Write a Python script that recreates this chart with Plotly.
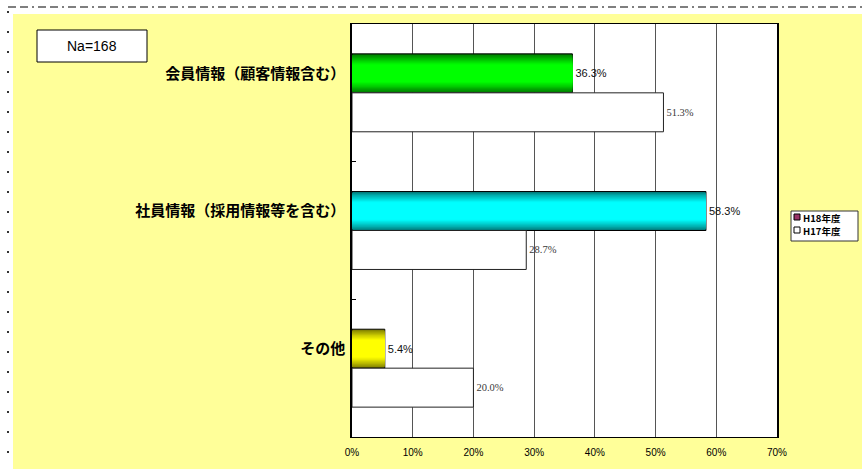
import plotly.graph_objects as go

# ---- data ----
categories = ["会員情報（顧客情報含む）", "社員情報（採用情報等を含む）", "その他"]
h18_values = [36.3, 58.3, 5.4]
h17_values = [51.3, 28.7, 20.0]
x_ticks = [0, 10, 20, 30, 40, 50, 60, 70]
series_names = ["H18年度", "H17年度"]
sample_note = "Na=168"

# ---- styling ----
W, H = 862, 469
PL, PR, PT, PB = 352, 777, 24, 437          # plot-area box in pixels
BAR_W = 0.283                                # bar thickness in category units
OFF = BAR_W / 2
edge_cols = [(0, 95, 0), (0, 100, 100), (100, 100, 0)]
mid_cols = [(0, 255, 0), (0, 255, 255), (255, 255, 0)]
PALE = "#FFFF99"
PLUM = "#993366"
JP = "Noto Sans CJK JP"
SANS = "Liberation Sans, Arial"
SERIF = "Liberation Serif, Times New Roman"


def px_x(x):
    return (x - PL) / (PR - PL)


def px_y(y):
    return (PB - y) / (PB - PT)


def mix(a, b, t):
    return "rgb(%d,%d,%d)" % tuple(round(a[i] + (b[i] - a[i]) * t) for i in range(3))


n = len(categories)
pos_h18 = [i - OFF for i in range(n)]
pos_h17 = [i + OFF for i in range(n)]

fig = go.Figure()

# H18 bars: layers of shrinking thickness give a dark-bright-dark shading
N = 14
for k in range(N):
    frac = 1 - 0.85 * k / N
    t = min(1.0, ((k + 1) / (N * 0.7)) ** 0.8)
    outer = k == 0
    fig.add_trace(go.Bar(
        y=pos_h18, x=h18_values, orientation="h",
        width=[BAR_W * frac] * n,
        marker=dict(color=[mix(edge_cols[i], mid_cols[i], t) for i in range(n)],
                    line=dict(color="black", width=1 if outer else 0)),
        showlegend=False, hoverinfo="skip",
    ))

# value labels for H18 (carried by a transparent bar of the same value)
fig.add_trace(go.Bar(
    y=pos_h18, x=h18_values, orientation="h", width=[BAR_W] * n,
    marker=dict(color="rgba(0,0,0,0)", line=dict(width=0)),
    text=[f"{v:.1f}%" for v in h18_values], textposition="outside",
    textfont=dict(family=SANS, size=11, color="#111111"),
    outsidetextfont=dict(family=SANS, size=11, color="#111111"),
    cliponaxis=False, showlegend=False, hoverinfo="skip",
))

# H17 bars
fig.add_trace(go.Bar(
    y=pos_h17, x=h17_values, orientation="h", width=[BAR_W] * n,
    marker=dict(color="white", line=dict(color="#222222", width=1)),
    text=[f"{v:.1f}%" for v in h17_values], textposition="outside",
    textfont=dict(family=SERIF, size=10.5, color="#3a3a3a"),
    outsidetextfont=dict(family=SERIF, size=10.5, color="#3a3a3a"),
    cliponaxis=False, showlegend=False, hoverinfo="skip",
))

shapes = [
    # white strips round the pale-yellow sheet
    dict(type="rect", xref="paper", yref="paper", x0=px_x(0), x1=px_x(13),
         y0=px_y(H), y1=px_y(0), fillcolor="white", line=dict(width=0), layer="above"),
    dict(type="rect", xref="paper", yref="paper", x0=px_x(0), x1=px_x(W),
         y0=px_y(14), y1=px_y(0), fillcolor="white", line=dict(width=0), layer="above"),
    # dash-dot rule along the top, dotted rule down the left
    dict(type="line", xref="paper", yref="paper", x0=px_x(8), x1=px_x(W),
         y0=px_y(7), y1=px_y(7), line=dict(color="#555555", width=1.5,
                                           dash="8px,4px,8px,4px,2px,4px")),
    dict(type="line", xref="paper", yref="paper", x0=px_x(8), x1=px_x(8),
         y0=px_y(11), y1=px_y(H), line=dict(color="#333333", width=2, dash="2px,18px")),
    # sample-size box
    dict(type="rect", xref="paper", yref="paper", x0=px_x(37), x1=px_x(147),
         y0=px_y(62), y1=px_y(30), fillcolor="white", line=dict(color="black", width=1)),
    # legend box and swatches
    dict(type="rect", xref="paper", yref="paper", x0=px_x(791), x1=px_x(858),
         y0=px_y(241), y1=px_y(211), fillcolor="white", line=dict(color="#333333", width=1)),
    dict(type="rect", xref="paper", yref="paper", x0=px_x(794), x1=px_x(800),
         y0=px_y(220), y1=px_y(214), fillcolor=PLUM, line=dict(color="black", width=1)),
    dict(type="rect", xref="paper", yref="paper", x0=px_x(794), x1=px_x(800),
         y0=px_y(233), y1=px_y(227), fillcolor="white", line=dict(color="black", width=1)),
]

annotations = [
    dict(xref="paper", yref="paper", x=px_x(92), y=px_y(46), text=sample_note,
         showarrow=False, font=dict(family=SANS, size=14, color="black"),
         xanchor="center", yanchor="middle"),
    dict(xref="paper", yref="paper", x=px_x(801), y=px_y(217.5), text=series_names[0],
         showarrow=False, font=dict(family=JP, size=9.5, color="black", weight="bold"),
         xanchor="left", yanchor="middle"),
    dict(xref="paper", yref="paper", x=px_x(801), y=px_y(230.5), text=series_names[1],
         showarrow=False, font=dict(family=JP, size=9.5, color="black", weight="bold"),
         xanchor="left", yanchor="middle"),
]

fig.update_layout(
    width=W, height=H,
    margin=dict(l=PL, r=W - PR, t=PT, b=H - PB, pad=0),
    paper_bgcolor=PALE, plot_bgcolor="white",
    barmode="overlay", showlegend=False,
    shapes=shapes, annotations=annotations,
    xaxis=dict(range=[0, 70], tickmode="array", tickvals=x_ticks,
               ticktext=[f"{v}%" for v in x_ticks], showgrid=True,
               gridcolor="#555555", gridwidth=1, zeroline=False,
               showline=True, linecolor="black", linewidth=1, mirror=True,
               ticks="", ticklabelstandoff=6,
               tickfont=dict(family=SANS, size=10, color="black")),
    yaxis=dict(range=[n - 0.5, -0.5], tickmode="array", tickvals=pos_h18,
               ticktext=categories, showgrid=False, zeroline=False,
               showline=True, linecolor="black", linewidth=1.5, mirror=True,
               ticks="", ticklabelstandoff=2,
               tickfont=dict(family=JP, size=15, color="black", weight="bold"),
               minor=dict(tickmode="array", tickvals=[i + 0.5 for i in range(n - 1)],
                          ticks="inside", ticklen=4, tickcolor="black", tickwidth=1)),
    font=dict(family=JP),
)

fig.write_html("out.html")
